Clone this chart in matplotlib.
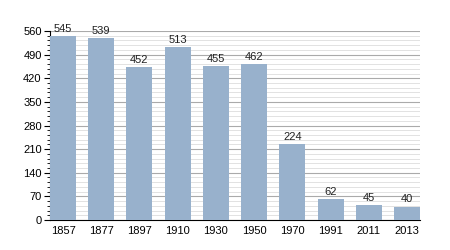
import matplotlib
matplotlib.use("Agg")
import matplotlib.pyplot as plt
from matplotlib.ticker import MultipleLocator

years = ["1857", "1877", "1897", "1910", "1930", "1950", "1970", "1991", "2011", "2013"]
population = [545, 539, 452, 513, 455, 462, 224, 62, 45, 40]

plt.rcParams['font.family'] = ['Liberation Sans', 'DejaVu Sans']

fig = plt.figure(figsize=(4.5, 2.5), dpi=100)
ax = fig.add_axes([50 / 450, 30 / 250, 370 / 450, 189 / 250])

x = range(len(years))
bars = ax.bar(x, population, width=0.68, color='#98b1cc', zorder=3)
for b, v in zip(bars, population):
    ax.text(b.get_x() + b.get_width() / 2, v + 6, str(v), ha='center', va='bottom',
            fontsize=8, color='#222222', zorder=4)

ax.set_xlim(-0.34, len(years) - 1 + 0.34)
ax.set_ylim(0, 560)
ax.set_xticks(list(x))
ax.set_xticklabels(years)
ax.yaxis.set_major_locator(MultipleLocator(70))
ax.yaxis.set_minor_locator(MultipleLocator(14))

ax.grid(axis='y', which='major', color='#aaaaaa', linewidth=0.8, zorder=0)
ax.grid(axis='y', which='minor', color='#dddddd', linewidth=0.6, zorder=0)

for s in ['top', 'right']:
    ax.spines[s].set_visible(False)
ax.spines['left'].set_color('black')
ax.spines['bottom'].set_color('black')

ax.tick_params(axis='x', length=0, labelsize=8, pad=4)
ax.tick_params(axis='y', which='major', length=4, labelsize=8, pad=2)
ax.tick_params(axis='y', which='minor', length=2)

fig.savefig("out.png", dpi=100)
